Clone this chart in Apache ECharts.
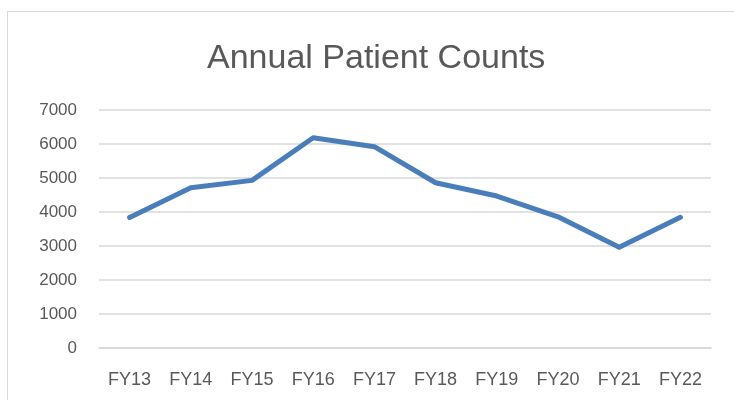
<!DOCTYPE html>
<html><head><meta charset="utf-8">
<script src="https://cdn.jsdelivr.net/npm/echarts@6/dist/echarts.min.js"></script>
<style>
html,body{margin:0;padding:0;background:#fff;overflow:hidden;}
#frame{position:absolute;left:7px;top:11px;width:740px;height:400px;border:1px solid #d9d9d9;box-sizing:border-box;}
#chart{position:absolute;left:0;top:0;width:734px;height:400px;}
</style></head>
<body>
<div id="frame"></div>
<div id="chart"></div>
<script>
const categories = ['FY13','FY14','FY15','FY16','FY17','FY18','FY19','FY20','FY21','FY22'];
const patientCounts = [3840, 4715, 4930, 6185, 5920, 4860, 4470, 3860, 2960, 3845];
const yTicks = {min: 0, max: 7000, interval: 1000};

const FONT = 'Liberation Sans, Arial, sans-serif';
const chart = echarts.init(document.getElementById('chart'));
chart.setOption({
  animation: false,
  title: {
    text: 'Annual Patient Counts',
    left: 202,
    top: 37,
    textStyle: {fontFamily: FONT, fontSize: 34, fontWeight: 'normal', color: '#595959'}
  },
  grid: {left: 99, right: 23, top: 110, bottom: 52, containLabel: false},
  xAxis: {
    type: 'category',
    data: categories,
    boundaryGap: true,
    axisLine: {show: true, lineStyle: {color: '#d9d9d9', width: 1.5}},
    axisTick: {show: false},
    axisLabel: {color: '#595959', fontSize: 18, margin: 23, fontFamily: FONT}
  },
  yAxis: {
    type: 'value',
    min: yTicks.min, max: yTicks.max, interval: yTicks.interval,
    axisLine: {show: false},
    axisTick: {show: false},
    splitLine: {lineStyle: {color: '#d9d9d9', width: 1.5}},
    axisLabel: {color: '#595959', fontSize: 17, margin: 22, fontFamily: FONT, formatter: v => String(v)}
  },
  series: [{
    type: 'line',
    data: patientCounts,
    symbol: 'none',
    lineStyle: {color: '#4a7ebb', width: 5, cap: 'round', join: 'round'}
  }]
});
</script>
</body></html>
